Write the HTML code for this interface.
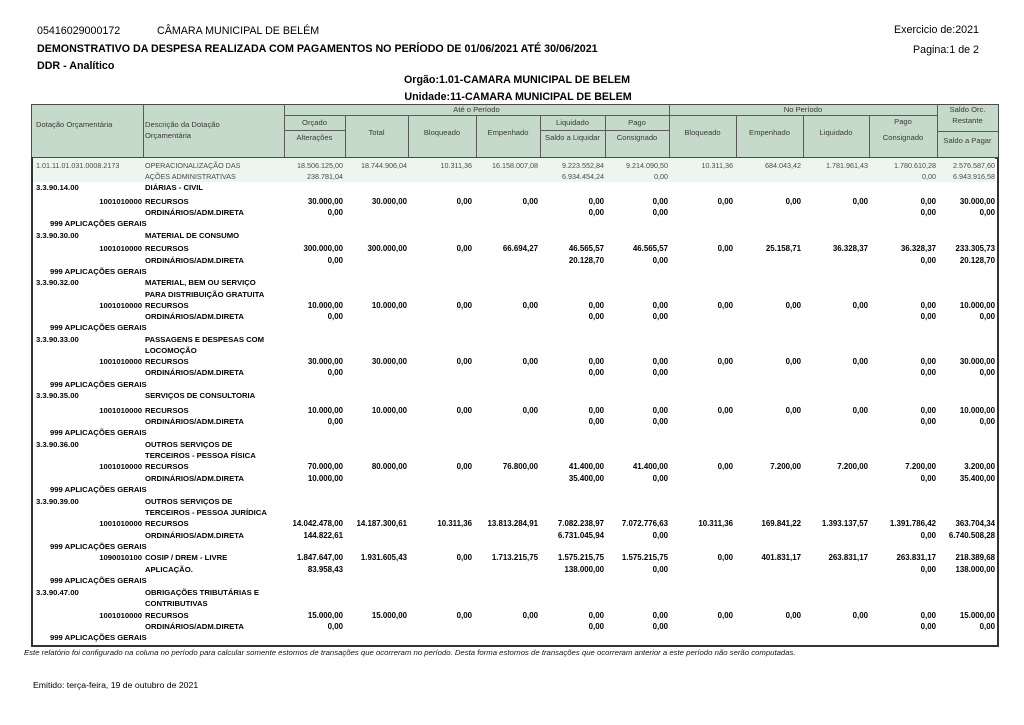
<!DOCTYPE html>
<html><head><meta charset="utf-8">
<style>
html,body{margin:0;padding:0;background:#fff;}
body{width:1024px;height:725px;position:relative;overflow:hidden;font-family:"Liberation Sans",Arial,sans-serif;color:#000;}
.T{position:absolute;white-space:nowrap;font-size:10.7px;line-height:14px;height:14px;}
.bd{font-weight:bold;}
.box{position:absolute;}
.hl{position:absolute;height:1px;background:#5a5a5a;}
.vl{position:absolute;width:1px;background:#5a5a5a;}
.h{position:absolute;font-size:7.6px;line-height:10px;height:10px;color:#3a3a3a;white-space:nowrap;text-align:center;}
.r{position:absolute;left:0;width:1024px;height:10px;line-height:10px;font-size:7.7px;font-weight:bold;color:#000;}
.r.n{font-size:7.2px;font-weight:normal;color:#4a4a4a;}
.r span{position:absolute;white-space:nowrap;top:0;}
.r:not(.n) span[class^="n"]{font-size:7.9px;}
.a{left:36px}.k{right:882px}.d{left:145px}.g{left:50px}
.n1{right:681px}.n2{right:617px}.n3{right:552px}.n4{right:486px}.n5{right:420px}.n6{right:356px}
.n7{right:291px}.n8{right:223px}.n9{right:156px}.n10{right:88px}.n11{right:29px}
</style></head><body>

<div class="T" style="left:37px;top:24px;">05416029000172</div>
<div class="T" style="left:157px;top:24px;">CÂMARA MUNICIPAL DE BELÉM</div>
<div class="T bd" style="left:37px;top:42px;">DEMONSTRATIVO DA DESPESA REALIZADA COM PAGAMENTOS NO PERÍODO DE 01/06/2021 ATÉ 30/06/2021</div>
<div class="T bd" style="left:37px;top:59px;">DDR - Analítico</div>
<div class="T" style="right:45px;top:23px;">Exercicio de:2021</div>
<div class="T" style="right:45px;top:43px;">Pagina:1 de 2</div>
<div class="T bd" style="left:317px;width:400px;text-align:center;top:73px;">Orgão:1.01-CAMARA MUNICIPAL DE BELEM</div>
<div class="T bd" style="left:317px;width:402px;text-align:center;top:90px;">Unidade:11-CAMARA MUNICIPAL DE BELEM</div>

<!-- header box -->
<div class="box" style="left:31px;top:104px;width:966px;height:53px;background:#c6dac9;border:1px solid #4a4a4a;"></div>
<div class="hl" style="left:284px;top:115px;width:653px;"></div>
<div class="vl" style="left:143px;top:104px;height:54px;"></div>
<div class="vl" style="left:284px;top:104px;height:54px;"></div>
<div class="vl" style="left:669px;top:104px;height:54px;"></div>
<div class="vl" style="left:937px;top:104px;height:54px;"></div>
<div class="vl" style="left:345px;top:115px;height:43px;"></div>
<div class="vl" style="left:408px;top:115px;height:43px;"></div>
<div class="vl" style="left:476px;top:115px;height:43px;"></div>
<div class="vl" style="left:540px;top:115px;height:43px;"></div>
<div class="vl" style="left:605px;top:115px;height:43px;"></div>
<div class="vl" style="left:736px;top:115px;height:43px;"></div>
<div class="vl" style="left:803px;top:115px;height:43px;"></div>
<div class="vl" style="left:869px;top:115px;height:43px;"></div>
<div class="hl" style="left:284px;top:130px;width:61px;"></div>
<div class="hl" style="left:540px;top:130px;width:129px;"></div>
<div class="hl" style="left:937px;top:131px;width:61px;"></div>

<div class="h" style="left:36px;top:120px;text-align:left;">Dotação Orçamentária</div>
<div class="h" style="left:145px;top:120px;text-align:left;">Descrição da Dotação</div>
<div class="h" style="left:145px;top:131px;text-align:left;">Orçamentária</div>
<div class="h" style="left:284px;width:385px;top:105px;">Até o Período</div>
<div class="h" style="left:669px;width:268px;top:105px;">No Período</div>
<div class="h" style="left:937px;width:61px;top:105px;">Saldo Orc.</div>
<div class="h" style="left:937px;width:61px;top:116px;">Restante</div>
<div class="h" style="left:937px;width:61px;top:136px;">Saldo a Pagar</div>
<div class="h" style="left:284px;width:61px;top:118px;">Orçado</div>
<div class="h" style="left:284px;width:61px;top:133px;">Alterações</div>
<div class="h" style="left:345px;width:63px;top:128px;">Total</div>
<div class="h" style="left:408px;width:68px;top:128px;">Bloqueado</div>
<div class="h" style="left:476px;width:64px;top:128px;">Empenhado</div>
<div class="h" style="left:540px;width:65px;top:118px;">Liquidado</div>
<div class="h" style="left:540px;width:65px;top:133px;">Saldo a Liquidar</div>
<div class="h" style="left:605px;width:64px;top:118px;">Pago</div>
<div class="h" style="left:605px;width:64px;top:133px;">Consignado</div>
<div class="h" style="left:669px;width:67px;top:128px;">Bloqueado</div>
<div class="h" style="left:736px;width:67px;top:128px;">Empenhado</div>
<div class="h" style="left:803px;width:66px;top:128px;">Liquidado</div>
<div class="h" style="left:869px;width:68px;top:117px;">Pago</div>
<div class="h" style="left:869px;width:68px;top:133px;">Consignado</div>

<!-- body box -->
<div class="box" style="left:31px;top:157px;width:964px;height:487px;border:2px solid #333;border-top:1px solid #4a4a4a;"></div>
<div class="box" style="left:33px;top:158px;width:962px;height:24px;background:#edf5ef;"></div>

<!-- first row -->
<div class="r n" style="top:161px"><span class="a">1.01.11.01.031.0008.2173</span><span class="d">OPERACIONALIZAÇÃO DAS</span><span class="n1">18.506.125,00</span><span class="n2">18.744.906,04</span><span class="n3">10.311,36</span><span class="n4">16.158.007,08</span><span class="n5">9.223.552,84</span><span class="n6">9.214.090,50</span><span class="n7">10.311,36</span><span class="n8">684.043,42</span><span class="n9">1.781.961,43</span><span class="n10">1.780.610,28</span><span class="n11">2.576.587,60</span></div>
<div class="r n" style="top:172px"><span class="d">AÇÕES ADMINISTRATIVAS</span><span class="n1">238.781,04</span><span class="n5">6.934.454,24</span><span class="n6">0,00</span><span class="n10">0,00</span><span class="n11">6.943.916,58</span></div>

<!-- 14 -->
<div class="r" style="top:183px"><span class="a">3.3.90.14.00</span><span class="d">DIÁRIAS - CIVIL</span></div>
<div class="r" style="top:197px"><span class="k">1001010000</span><span class="d">RECURSOS</span><span class="n1">30.000,00</span><span class="n2">30.000,00</span><span class="n3">0,00</span><span class="n4">0,00</span><span class="n5">0,00</span><span class="n6">0,00</span><span class="n7">0,00</span><span class="n8">0,00</span><span class="n9">0,00</span><span class="n10">0,00</span><span class="n11">30.000,00</span></div>
<div class="r" style="top:208px"><span class="d">ORDINÁRIOS/ADM.DIRETA</span><span class="n1">0,00</span><span class="n5">0,00</span><span class="n6">0,00</span><span class="n10">0,00</span><span class="n11">0,00</span></div>
<div class="r" style="top:219px"><span class="g">999 APLICAÇÕES GERAIS</span></div>

<!-- 30 -->
<div class="r" style="top:231px"><span class="a">3.3.90.30.00</span><span class="d">MATERIAL DE CONSUMO</span></div>
<div class="r" style="top:244px"><span class="k">1001010000</span><span class="d">RECURSOS</span><span class="n1">300.000,00</span><span class="n2">300.000,00</span><span class="n3">0,00</span><span class="n4">66.694,27</span><span class="n5">46.565,57</span><span class="n6">46.565,57</span><span class="n7">0,00</span><span class="n8">25.158,71</span><span class="n9">36.328,37</span><span class="n10">36.328,37</span><span class="n11">233.305,73</span></div>
<div class="r" style="top:256px"><span class="d">ORDINÁRIOS/ADM.DIRETA</span><span class="n1">0,00</span><span class="n5">20.128,70</span><span class="n6">0,00</span><span class="n10">0,00</span><span class="n11">20.128,70</span></div>
<div class="r" style="top:267px"><span class="g">999 APLICAÇÕES GERAIS</span></div>

<!-- 32 -->
<div class="r" style="top:278px"><span class="a">3.3.90.32.00</span><span class="d">MATERIAL, BEM OU SERVIÇO</span></div>
<div class="r" style="top:290px"><span class="d">PARA DISTRIBUIÇÃO GRATUITA</span></div>
<div class="r" style="top:301px"><span class="k">1001010000</span><span class="d">RECURSOS</span><span class="n1">10.000,00</span><span class="n2">10.000,00</span><span class="n3">0,00</span><span class="n4">0,00</span><span class="n5">0,00</span><span class="n6">0,00</span><span class="n7">0,00</span><span class="n8">0,00</span><span class="n9">0,00</span><span class="n10">0,00</span><span class="n11">10.000,00</span></div>
<div class="r" style="top:312px"><span class="d">ORDINÁRIOS/ADM.DIRETA</span><span class="n1">0,00</span><span class="n5">0,00</span><span class="n6">0,00</span><span class="n10">0,00</span><span class="n11">0,00</span></div>
<div class="r" style="top:323px"><span class="g">999 APLICAÇÕES GERAIS</span></div>

<!-- 33 -->
<div class="r" style="top:335px"><span class="a">3.3.90.33.00</span><span class="d">PASSAGENS E DESPESAS COM</span></div>
<div class="r" style="top:346px"><span class="d">LOCOMOÇÃO</span></div>
<div class="r" style="top:357px"><span class="k">1001010000</span><span class="d">RECURSOS</span><span class="n1">30.000,00</span><span class="n2">30.000,00</span><span class="n3">0,00</span><span class="n4">0,00</span><span class="n5">0,00</span><span class="n6">0,00</span><span class="n7">0,00</span><span class="n8">0,00</span><span class="n9">0,00</span><span class="n10">0,00</span><span class="n11">30.000,00</span></div>
<div class="r" style="top:368px"><span class="d">ORDINÁRIOS/ADM.DIRETA</span><span class="n1">0,00</span><span class="n5">0,00</span><span class="n6">0,00</span><span class="n10">0,00</span><span class="n11">0,00</span></div>
<div class="r" style="top:380px"><span class="g">999 APLICAÇÕES GERAIS</span></div>

<!-- 35 -->
<div class="r" style="top:391px"><span class="a">3.3.90.35.00</span><span class="d">SERVIÇOS DE CONSULTORIA</span></div>
<div class="r" style="top:406px"><span class="k">1001010000</span><span class="d">RECURSOS</span><span class="n1">10.000,00</span><span class="n2">10.000,00</span><span class="n3">0,00</span><span class="n4">0,00</span><span class="n5">0,00</span><span class="n6">0,00</span><span class="n7">0,00</span><span class="n8">0,00</span><span class="n9">0,00</span><span class="n10">0,00</span><span class="n11">10.000,00</span></div>
<div class="r" style="top:417px"><span class="d">ORDINÁRIOS/ADM.DIRETA</span><span class="n1">0,00</span><span class="n5">0,00</span><span class="n6">0,00</span><span class="n10">0,00</span><span class="n11">0,00</span></div>
<div class="r" style="top:428px"><span class="g">999 APLICAÇÕES GERAIS</span></div>

<!-- 36 -->
<div class="r" style="top:440px"><span class="a">3.3.90.36.00</span><span class="d">OUTROS SERVIÇOS DE</span></div>
<div class="r" style="top:451px"><span class="d">TERCEIROS - PESSOA FÍSICA</span></div>
<div class="r" style="top:462px"><span class="k">1001010000</span><span class="d">RECURSOS</span><span class="n1">70.000,00</span><span class="n2">80.000,00</span><span class="n3">0,00</span><span class="n4">76.800,00</span><span class="n5">41.400,00</span><span class="n6">41.400,00</span><span class="n7">0,00</span><span class="n8">7.200,00</span><span class="n9">7.200,00</span><span class="n10">7.200,00</span><span class="n11">3.200,00</span></div>
<div class="r" style="top:474px"><span class="d">ORDINÁRIOS/ADM.DIRETA</span><span class="n1">10.000,00</span><span class="n5">35.400,00</span><span class="n6">0,00</span><span class="n10">0,00</span><span class="n11">35.400,00</span></div>
<div class="r" style="top:485px"><span class="g">999 APLICAÇÕES GERAIS</span></div>

<!-- 39 -->
<div class="r" style="top:497px"><span class="a">3.3.90.39.00</span><span class="d">OUTROS SERVIÇOS DE</span></div>
<div class="r" style="top:508px"><span class="d">TERCEIROS - PESSOA JURÍDICA</span></div>
<div class="r" style="top:519px"><span class="k">1001010000</span><span class="d">RECURSOS</span><span class="n1">14.042.478,00</span><span class="n2">14.187.300,61</span><span class="n3">10.311,36</span><span class="n4">13.813.284,91</span><span class="n5">7.082.238,97</span><span class="n6">7.072.776,63</span><span class="n7">10.311,36</span><span class="n8">169.841,22</span><span class="n9">1.393.137,57</span><span class="n10">1.391.786,42</span><span class="n11">363.704,34</span></div>
<div class="r" style="top:531px"><span class="d">ORDINÁRIOS/ADM.DIRETA</span><span class="n1">144.822,61</span><span class="n5">6.731.045,94</span><span class="n6">0,00</span><span class="n10">0,00</span><span class="n11">6.740.508,28</span></div>
<div class="r" style="top:542px"><span class="g">999 APLICAÇÕES GERAIS</span></div>
<div class="r" style="top:553px"><span class="k">1090010100</span><span class="d">COSIP / DREM - LIVRE</span><span class="n1">1.847.647,00</span><span class="n2">1.931.605,43</span><span class="n3">0,00</span><span class="n4">1.713.215,75</span><span class="n5">1.575.215,75</span><span class="n6">1.575.215,75</span><span class="n7">0,00</span><span class="n8">401.831,17</span><span class="n9">263.831,17</span><span class="n10">263.831,17</span><span class="n11">218.389,68</span></div>
<div class="r" style="top:565px"><span class="d">APLICAÇÃO.</span><span class="n1">83.958,43</span><span class="n5">138.000,00</span><span class="n6">0,00</span><span class="n10">0,00</span><span class="n11">138.000,00</span></div>
<div class="r" style="top:576px"><span class="g">999 APLICAÇÕES GERAIS</span></div>

<!-- 47 -->
<div class="r" style="top:588px"><span class="a">3.3.90.47.00</span><span class="d">OBRIGAÇÕES TRIBUTÁRIAS E</span></div>
<div class="r" style="top:599px"><span class="d">CONTRIBUTIVAS</span></div>
<div class="r" style="top:611px"><span class="k">1001010000</span><span class="d">RECURSOS</span><span class="n1">15.000,00</span><span class="n2">15.000,00</span><span class="n3">0,00</span><span class="n4">0,00</span><span class="n5">0,00</span><span class="n6">0,00</span><span class="n7">0,00</span><span class="n8">0,00</span><span class="n9">0,00</span><span class="n10">0,00</span><span class="n11">15.000,00</span></div>
<div class="r" style="top:622px"><span class="d">ORDINÁRIOS/ADM.DIRETA</span><span class="n1">0,00</span><span class="n5">0,00</span><span class="n6">0,00</span><span class="n10">0,00</span><span class="n11">0,00</span></div>
<div class="r" style="top:633px"><span class="g">999 APLICAÇÕES GERAIS</span></div>

<div style="position:absolute;left:24px;top:648px;font-size:7.75px;line-height:10px;font-style:italic;white-space:nowrap;color:#111;">Este relatório foi configurado na coluna no período para calcular somente estornos de transações que ocorreram no período. Desta forma estornos de transações que ocorreram anterior a este período não serão computadas.</div>
<div style="position:absolute;left:33px;top:679px;font-size:8.7px;line-height:12px;white-space:nowrap;">Emitido: terça-feira, 19 de outubro de 2021</div>

</body></html>
